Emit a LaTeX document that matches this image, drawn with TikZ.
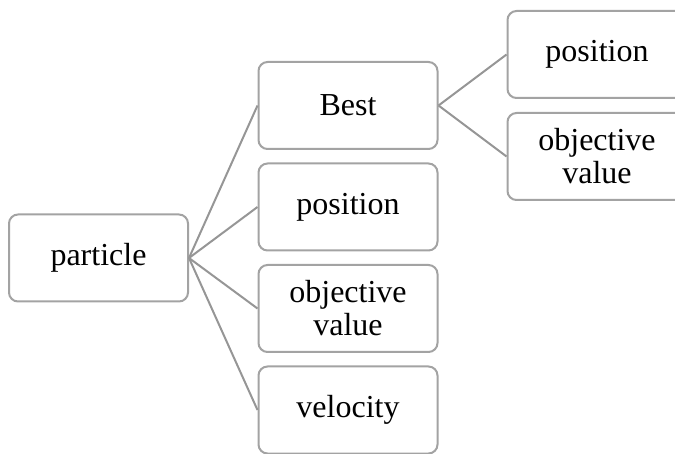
\documentclass[tikz,border=0pt]{standalone}
\usepackage{fontspec}
\setmainfont{Liberation Serif}
\usepackage{tikz}
\usetikzlibrary{positioning,calc}

\definecolor{boxgray}{RGB}{163,163,163}
\definecolor{linegray}{RGB}{150,150,150}

\tikzset{
  item/.style = {draw = boxgray, line width = 2pt, rounded corners = 9pt,
    fill = white, minimum width = 179pt, minimum height = 87pt,
    align = center, inner sep = 0pt,
    font = \fontsize{32}{33}\selectfont},
  link/.style = {draw = linegray, line width = 2pt}
}

\begin{document}
\begin{tikzpicture}[x = 1pt, y = -1pt]
  \useasboundingbox (0,0) rectangle (675,454);
  \clip (0,0) rectangle (675,454);

  \def\step{101.5}% vertical distance between boxes
  \def\xmid{348}% centre of the middle column
  \def\xright{597}% centre of the right column

  % root
  \node[item] (particle) at (98.5,258) {particle};

  % middle column
  \node[item] (best)  at (\xmid,105.5)           {Best};
  \node[item] (pos)   at (\xmid,105.5+\step)     {position};
  \node[item] (obj)   at (\xmid,105.5+2*\step)   {objective\\value};
  \node[item] (vel)   at (\xmid,105.5+3*\step)   {velocity};

  % right column, children of Best
  \node[item] (bestpos) at (\xright,54.5)  {position};
  \node[item] (bestobj) at (\xright,156.5) {objective\\value};

  % links from particle
  \foreach \n in {best,pos,obj,vel}
    \draw[link] (particle.east) -- (\n.west);

  % links from Best
  \draw[link] (best.east) -- (bestpos.west);
  \draw[link] (best.east) -- (bestobj.west);
\end{tikzpicture}
\end{document}
